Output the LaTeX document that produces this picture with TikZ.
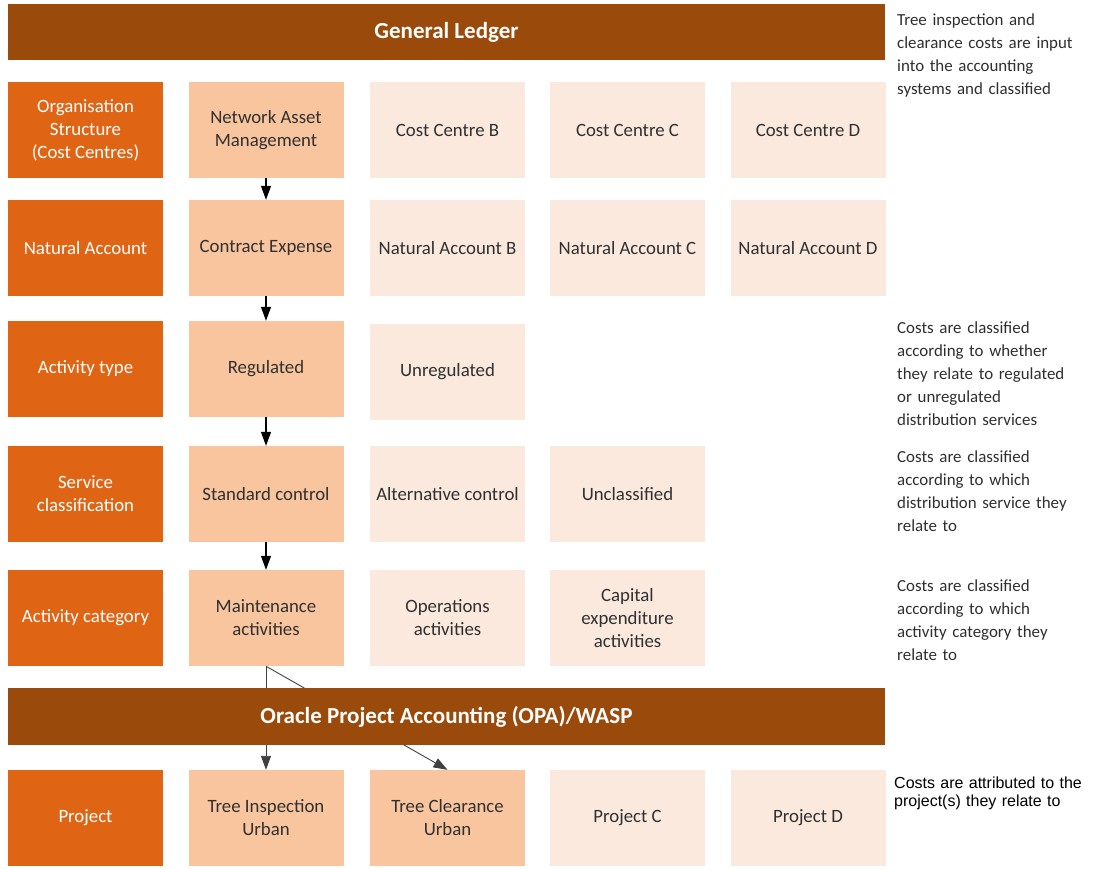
\documentclass[tikz,border=0pt]{standalone}
\usepackage{fontspec}
\setmainfont{Carlito}
\newfontfamily\arialfont{Liberation Sans}
\usetikzlibrary{arrows.meta}
\definecolor{darkor}{HTML}{DF6515}
\definecolor{midor}{HTML}{F8C59E}
\definecolor{lightor}{HTML}{FCE9DE}
\definecolor{brownbar}{HTML}{9A4A0B}
\definecolor{boxtext}{HTML}{303030}
\definecolor{notetext}{HTML}{2E2E2E}
\begin{document}
\begin{tikzpicture}[x=1pt,y=-1pt,
  cell/.style={minimum width=155pt, minimum height=96pt, inner sep=0pt, align=center, font=\fontsize{18.8}{23}\selectfont},
  dark/.style={cell, fill=darkor, text=white},
  mid/.style={cell, fill=midor, text=boxtext},
  light/.style={cell, fill=lightor, text=boxtext},
  bar/.style={fill=brownbar, text=white, minimum width=877pt, minimum height=56pt, inner sep=0pt, font=\fontsize{23}{27}\selectfont\bfseries},
  note/.style={anchor=base west, inner sep=0pt, text width=200pt, align=left, text=notetext, font=\fontsize{16.9}{23}\selectfont},
  flow/.style={draw=black, line width=1.1pt, -{Triangle[width=10pt,length=14pt]}},
  cross/.style={draw=black!75, line width=0.9pt, -{Triangle[width=10pt,length=14pt]}},
]
\useasboundingbox (0,0) rectangle (1095,868);

% top bar
\node[bar] (gl) at (446.5,32) {General Ledger};

% row 1
\node[dark]  (r1c0) at (85.5,130) {Organisation\\Structure\\(Cost Centres)};
\node[mid]   (r1c1) at (266,130) {Network Asset\\Management};
\node[light] (r1c2) at (447.5,130) {Cost Centre B};
\node[light] (r1c3) at (627.5,130) {Cost Centre C};
\node[light] (r1c4) at (808,130) {Cost Centre D};

% row 2
\node[dark]  (r2c0) at (85.5,248) {Natural Account};
\node[mid]   (r2c1) at (266,248) {Contract Expense};
\node[light] (r2c2) at (447.5,248) {Natural Account B};
\node[light] (r2c3) at (627.5,248) {Natural Account C};
\node[light] (r2c4) at (808,248) {Natural Account D};

% row 3
\node[dark]  (r3c0) at (85.5,369) {Activity type};
\node[mid]   (r3c1) at (266,369) {Regulated};
\node[light] (r3c2) at (447.5,372) {Unregulated};

% row 4
\node[dark]  (r4c0) at (85.5,494) {Service\\classification};
\node[mid]   (r4c1) at (266,494) {Standard control};
\node[light] (r4c2) at (447.5,494) {Alternative control};
\node[light] (r4c3) at (627.5,494) {Unclassified};

% row 5
\node[dark]  (r5c0) at (85.5,618) {Activity category};
\node[mid]   (r5c1) at (266,618) {Maintenance\\activities};
\node[light] (r5c2) at (447.5,618) {Operations\\activities};
\node[light] (r5c3) at (627.5,618) {Capital\\expenditure\\activities};

% row 6
\node[dark]  (r6c0) at (85.5,818) {Project};
\node[mid]   (r6c1) at (266,818) {Tree Inspection\\Urban};
\node[mid]   (r6c2) at (447.5,818) {Tree Clearance\\Urban};
\node[light] (r6c3) at (627.5,818) {Project C};
\node[light] (r6c4) at (808,818) {Project D};

% flow arrows
\draw[flow] (r1c1.south) -- (r2c1.north);
\draw[flow] (r2c1.south) -- (r3c1.north);
\draw[flow] (r3c1.south) -- (r4c1.north);
\draw[flow] (r4c1.south) -- (r5c1.north);
\draw[cross] (r5c1.south) -- (r6c1.north);
\draw[cross] (r5c1.south) -- (r6c2.north);

% OPA bar (over the crossing lines)
\node[bar, minimum height=57pt] (opa) at (446.5,716.5) {Oracle Project Accounting (OPA)/WASP};

% notes
\node[note] (n1) at (897,25) {Tree inspection and\\clearance costs are input\\into the accounting\\systems and classified};
\node[note] (n2) at (897,333) {Costs are classified\\according to whether\\they relate to regulated\\or unregulated\\distribution services};
\node[note] (n3) at (897,462) {Costs are classified\\according to which\\distribution service they\\relate to};
\node[note] (n4) at (897,591) {Costs are classified\\according to which\\activity category they\\relate to};
\node[note, text=black, font=\arialfont\fontsize{16}{18.5}\selectfont] (n5) at (894,788) {Costs are attributed to the\\project(s) they relate to};
\end{tikzpicture}
\end{document}
